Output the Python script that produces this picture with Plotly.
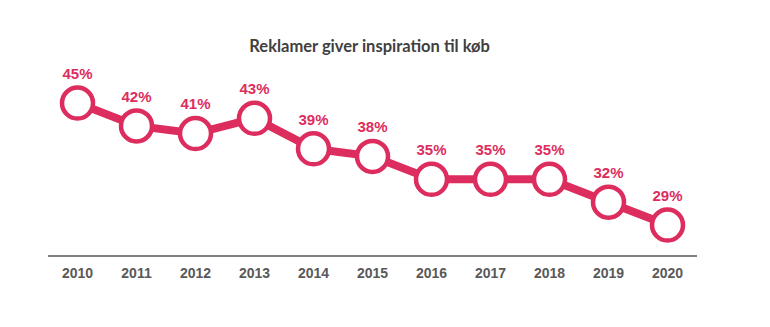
import plotly.graph_objects as go

years = ["2010", "2011", "2012", "2013", "2014", "2015", "2016", "2017", "2018", "2019", "2020"]
values = [45, 42, 41, 43, 39, 38, 35, 35, 35, 32, 29]
labels = [f"{v}%" for v in values]

pink = "#DD2D5E"

fig = go.Figure()
fig.add_trace(go.Scatter(
    x=years, y=values, mode="lines+markers+text",
    line=dict(color=pink, width=8),
    marker=dict(size=31, color="white", line=dict(color=pink, width=4.5)),
    text=labels, textposition="top center",
    textfont=dict(family="Liberation Sans, Arial", size=15, color=pink, weight="bold"),
    cliponaxis=False,
))

fig.update_layout(
    width=770, height=327,
    margin=dict(l=48, r=73, t=60, b=72),
    paper_bgcolor="white", plot_bgcolor="white",
    showlegend=False,
    title=dict(text="<b>Reklamer giver inspiration til køb</b>", x=0.48, xanchor="center",
               y=1 - 46 / 327, yanchor="middle",
               font=dict(family="Lato, Open Sans", size=16.5, color="#404040")),
    xaxis=dict(type="category", range=[-0.5, 10.5], showgrid=False, zeroline=False,
               showline=True, linecolor="#808080", linewidth=1.5, ticks="",
               ticklabelstandoff=4,
               tickfont=dict(family="Liberation Sans, Arial", size=14, color="#595959", weight="bold")),
    yaxis=dict(range=[25.07, 50.64], visible=False),
)

fig.write_html("out.html")
